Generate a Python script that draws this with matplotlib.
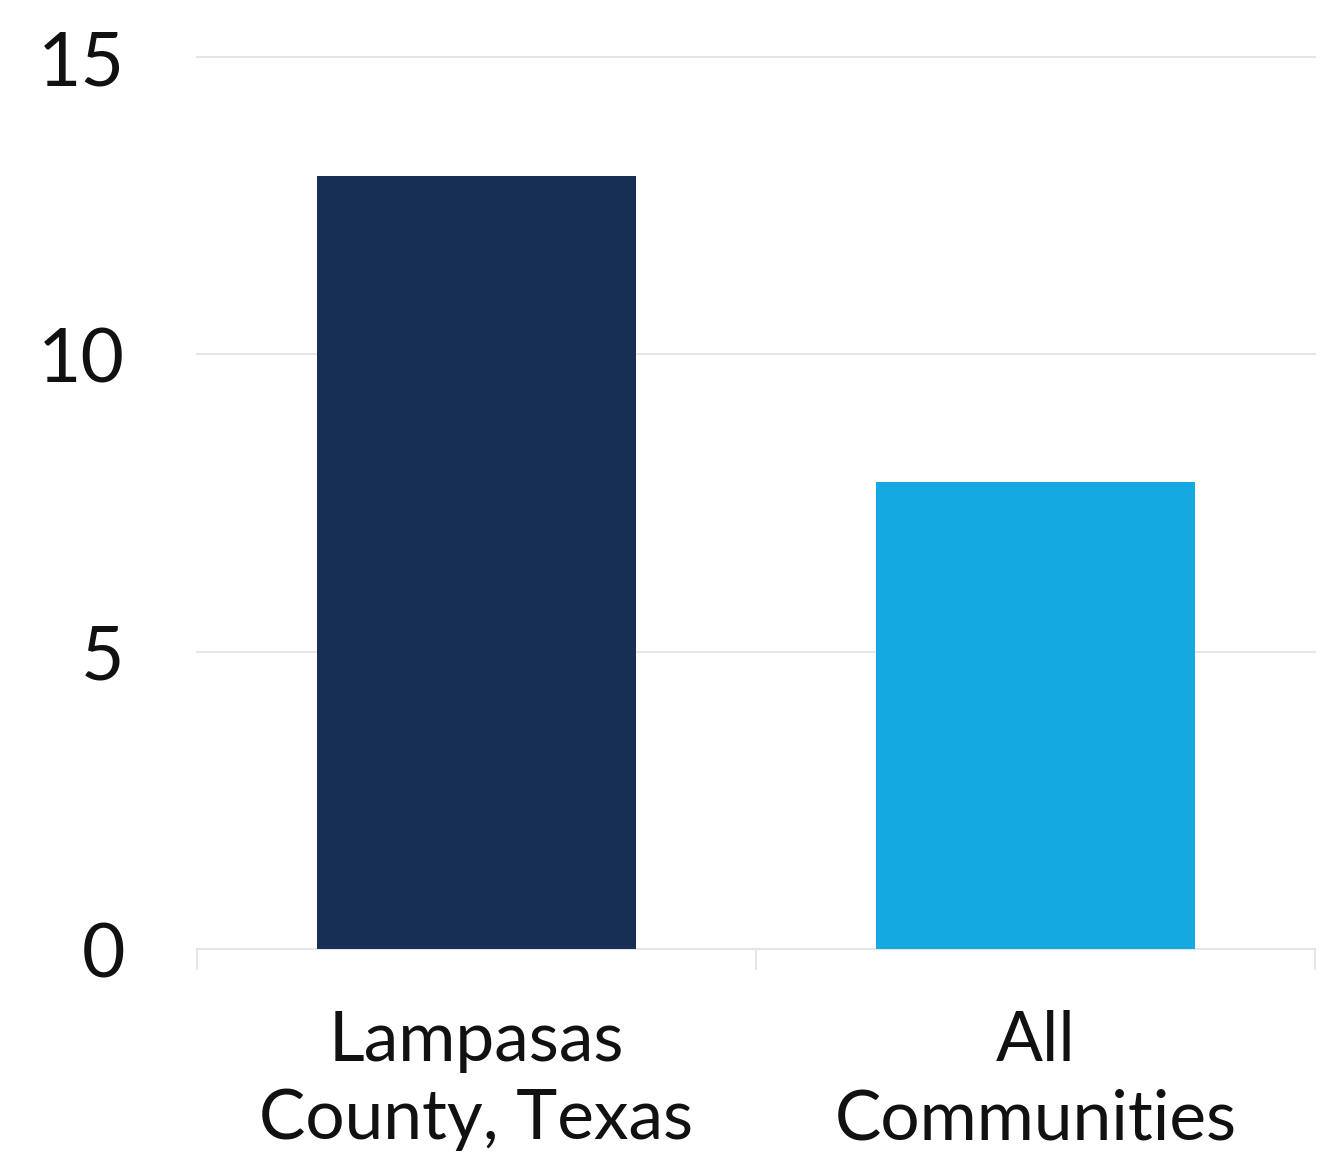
import matplotlib
matplotlib.use("Agg")
import matplotlib.pyplot as plt
from matplotlib.ticker import FixedLocator

categories = ["Lampasas\nCounty, Texas", "All\nCommunities"]
values = [13.0, 7.85]
colors = ["#172F54", "#15A9E1"]
yticks = [0, 5, 10, 15]

plt.rcParams['font.family'] = ['Lato', 'DejaVu Sans']

fig = plt.figure(figsize=(13.27, 11.54), dpi=100)
ax = fig.add_axes([197/1327, 205/1154, (1315-197)/1327, (949-57)/1154])

x = list(range(len(categories)))
ax.bar(x, values, width=0.572, color=colors, zorder=3)

ax.set_xlim(-0.5, 1.5)
ax.set_ylim(0, 15)
ax.set_yticks(yticks)
ax.set_yticklabels([str(t) for t in yticks], fontsize=54, color="#111111")
ax.set_xticks(x)
ax.set_xticklabels(categories, fontsize=50, color="#111111", linespacing=1.3)
ax.tick_params(axis='y', length=0, pad=52)
ax.tick_params(axis='x', which='major', length=0, pad=44)
ax.xaxis.set_minor_locator(FixedLocator([-0.5, 0.5, 1.5]))
ax.tick_params(axis='x', which='minor', length=15, width=1.2, color="#e3e3e3")

ax.grid(axis='y', color="#e6e6e6", linewidth=1.5, zorder=0)
for t in ax.yaxis.get_gridlines():
    t.set_clip_on(False)
for s in ["top", "right", "left"]:
    ax.spines[s].set_visible(False)
ax.spines["bottom"].set_color("#e6e6e6")
ax.spines["bottom"].set_linewidth(1.5)

fig.savefig("out.png", dpi=100)
